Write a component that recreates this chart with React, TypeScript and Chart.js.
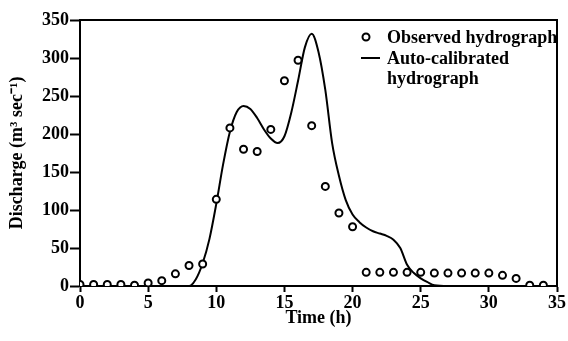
import React, { useEffect, useRef } from "react";
import { Chart, registerables } from "chart.js";

Chart.register(...registerables);

// Observed hydrograph (hourly)
const obsTime = [0, 1, 2, 3, 4, 5, 6, 7, 8, 9, 10, 11, 12, 13, 14, 15, 16, 17, 18, 19, 20, 21, 22, 23, 24, 25, 26, 27, 28, 29, 30, 31, 32, 33, 34];
const obsDischarge = [2, 2, 2, 2, 1, 4, 7, 16, 27, 29, 114, 208, 180, 177, 206, 270, 297, 211, 131, 96, 78, 18, 18, 18, 18, 18, 17, 17, 17, 17, 17, 14, 10, 1, 1];

// Auto-calibrated hydrograph
const simTime = [0, 1, 2, 3, 4, 5, 6, 7, 7.5, 8, 8.5, 9, 9.5, 10, 10.5, 11, 11.5, 12, 12.5, 13, 13.5, 14, 14.5, 15, 15.5, 16, 16.5, 17, 17.5, 18, 18.5, 19, 19.5, 20, 20.5, 21, 21.5, 22, 22.5, 23, 23.5, 24, 24.5, 25, 25.5, 26, 27, 28, 29, 30, 31, 32, 33, 34];
const simDischarge = [0, 0, 0, 0, 0, 0, 0, 0, 0, 0, 9, 30, 62, 108, 160, 203, 229, 237, 233, 221, 206, 194, 188, 197, 228, 270, 314, 332, 308, 258, 188, 145, 113, 94, 84, 77, 72, 69, 66, 61, 50, 28, 17, 10, 5, 1, 0, 0, 0, 0, 0, 0, 0, 0];

const xTicks = [0, 5, 10, 15, 20, 25, 30, 35];
const yTicks = [0, 50, 100, 150, 200, 250, 300, 350];

const legendLabels = ["Observed hydrograph", "Auto-calibrated", "hydrograph"];
const xTitle = "Time (h)";
const yTitle = "Discharge (m\u00B3 sec\u207B\u00B9)";

const FONT = "'Liberation Serif', 'Times New Roman', serif";

export default function App() {
  const ref = useRef<HTMLCanvasElement>(null);

  useEffect(() => {
    document.body.style.margin = "0";
    const canvas = ref.current;
    if (!canvas) return;

    const framePlugin = {
      id: "frame",
      afterDraw(chart: any) {
        const { ctx, chartArea } = chart;
        const { left, right, top, bottom } = chartArea;
        ctx.save();
        ctx.strokeStyle = "#000";
        ctx.lineWidth = 2;
        ctx.beginPath();
        ctx.moveTo(left - 1, top);
        ctx.lineTo(right, top);
        ctx.lineTo(right, bottom + 1);
        ctx.stroke();

        // legend
        ctx.fillStyle = "#000";
        ctx.font = `bold 18px ${FONT}`;
        ctx.textBaseline = "alphabetic";
        ctx.textAlign = "left";
        ctx.fillText(legendLabels[0], 387, 43);
        ctx.fillText(legendLabels[1], 387, 64);
        ctx.fillText(legendLabels[2], 387, 84);
        ctx.beginPath();
        ctx.arc(366, 37, 3.5, 0, Math.PI * 2);
        ctx.fillStyle = "#fff";
        ctx.fill();
        ctx.lineWidth = 2;
        ctx.stroke();
        ctx.beginPath();
        ctx.moveTo(361, 58);
        ctx.lineTo(380, 58);
        ctx.stroke();
        ctx.restore();
      },
    };

    const chart = new Chart(canvas, {
      type: "scatter",
      data: {
        datasets: [
          {
            label: legendLabels[0],
            data: obsTime.map((t, i) => ({ x: t, y: obsDischarge[i] })),
            showLine: false,
            pointRadius: 3.5,
            pointBorderWidth: 2,
            pointBackgroundColor: "#fff",
            pointBorderColor: "#000",
            borderColor: "#000",
          },
          {
            label: legendLabels[1] + " " + legendLabels[2],
            data: simTime.map((t, i) => ({ x: t, y: simDischarge[i] })),
            showLine: true,
            pointRadius: 0,
            borderColor: "#000",
            borderWidth: 2,
            cubicInterpolationMode: "monotone",
          },
        ],
      },
      options: {
        responsive: false,
        animation: false,
        devicePixelRatio: 1,
        layout: { padding: { left: 0, top: 20, right: 11, bottom: 0 } },
        plugins: {
          legend: { display: false },
          tooltip: { enabled: false },
        },
        scales: {
          x: {
            type: "linear",
            min: 0,
            max: 35,
            afterFit(scale: any) {
              scale.height = 55;
            },
            afterBuildTicks(scale: any) {
              scale.ticks = xTicks.map((v) => ({ value: v }));
            },
            ticks: {
              color: "#000",
              font: { family: FONT, size: 18, weight: "bold" },
              padding: 1,
              maxRotation: 0,
            },
            grid: {
              drawOnChartArea: false,
              drawTicks: true,
              tickLength: 6,
              tickWidth: 2,
              tickColor: "#000",
            },
            border: { display: true, color: "#000", width: 2 },
            title: {
              display: true,
              text: xTitle,
              color: "#000",
              font: { family: FONT, size: 18, weight: "bold" },
              padding: { top: 0, bottom: 12 },
            },
          },
          y: {
            type: "linear",
            min: 0,
            max: 350,
            afterFit(scale: any) {
              scale.width = 80;
            },
            afterBuildTicks(scale: any) {
              scale.ticks = yTicks.map((v) => ({ value: v }));
            },
            ticks: {
              color: "#000",
              font: { family: FONT, size: 18, weight: "bold" },
              padding: 1,
            },
            grid: {
              drawOnChartArea: false,
              drawTicks: true,
              tickLength: 10,
              tickWidth: 2,
              tickColor: "#000",
            },
            border: { display: true, color: "#000", width: 2 },
            title: {
              display: true,
              text: yTitle,
              color: "#000",
              font: { family: FONT, size: 18, weight: "bold" },
              padding: { top: 7, bottom: 0 },
            },
          },
        },
      },
      plugins: [framePlugin],
    } as any);

    return () => chart.destroy();
  }, []);

  return (
    <div style={{ position: "absolute", left: 0, top: 0, width: 568, height: 341, background: "#fff" }}>
      <canvas ref={ref} width={568} height={341} style={{ display: "block", width: 568, height: 341 }} />
    </div>
  );
}
